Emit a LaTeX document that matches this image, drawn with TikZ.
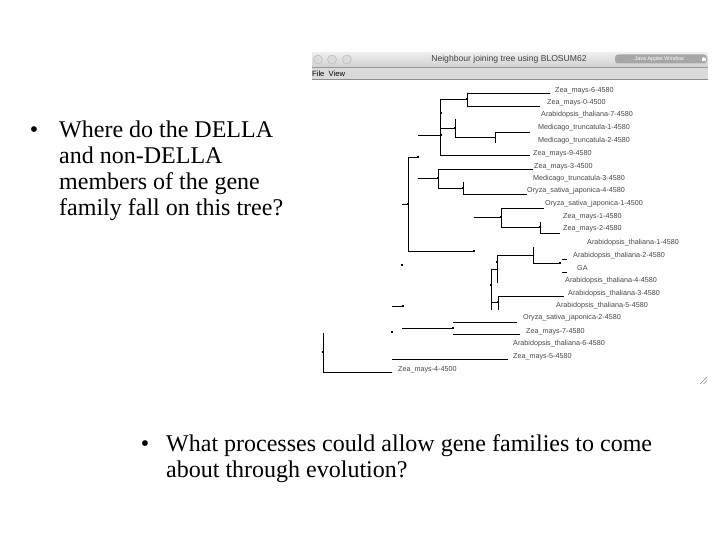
\documentclass[tikz,border=0pt]{standalone}
\usepackage{fontspec}
\setmainfont{Liberation Serif}
\newfontfamily\uisans{Liberation Sans}
\definecolor{barTop}{HTML}{EEEEEE}
\definecolor{barBot}{HTML}{D0D0D0}
\definecolor{menuBar}{HTML}{DADADA}
\definecolor{badge}{HTML}{A6A6A6}
\begin{document}
\begin{tikzpicture}[x=1pt,y=-1pt,
  br/.style={line width=0.9pt, black, line cap=rect},
  nd/.style={fill=black, minimum size=2.8pt, inner sep=0pt, draw=none, rectangle},
  lab/.style={font=\uisans\fontsize{7.2}{8}\selectfont, text=black!72, anchor=west, inner sep=0pt},
  slide/.style={font=\fontsize{24}{27}\selectfont, anchor=base west, inner sep=0pt},
  bul/.style={font=\fontsize{24}{27}\selectfont, anchor=base, inner sep=0pt},
  winbtn/.style={circle, minimum size=9pt, inner sep=0pt, fill=black!14, draw=black!30, line width=0.4pt}
]
\useasboundingbox (0,0) rectangle (720,540);
\fill[white] (0,0) rectangle (720,540);

% ---------- slide text ----------
\node[bul] (b1) at (34,137.5) {•};
\node[slide] (t1) at (59,137.5) {Where do the DELLA};
\node[slide] (t2) at (59,163.5) {and non-DELLA};
\node[slide] (t3) at (59,189.5) {members of the gene};
\node[slide] (t4) at (59,215.5) {family fall on this tree?};

\node[bul] (b2) at (145,451) {•};
\node[slide] (u1) at (166,451) {What processes could allow gene families to come};
\node[slide] (u2) at (166,477) {about through evolution?};

% ---------- window chrome ----------
\shade[top color=barTop, bottom color=barBot] (312,53) rectangle (708,67);
\fill[menuBar] (312,67) rectangle (708,79);
\draw[black!40, line width=0.5pt] (312,67) -- (708,67);
\draw[black!45, line width=0.6pt] (312,79) -- (708,79);
\node[winbtn] (c1) at (318,59.5) {};
\node[winbtn] (c2) at (332,59.5) {};
\node[winbtn] (c3) at (347,59.5) {};
\node[font=\uisans\fontsize{8.6}{10}\selectfont, text=black!75, inner sep=0pt] (title) at (509,59.5) {Neighbour joining tree using BLOSUM62};
\node[fill=badge, rounded corners=3pt, minimum width=92pt, minimum height=9pt, inner sep=0pt,
      font=\uisans\fontsize{5.4}{6}\selectfont, text=white] (badge) at (661,59) {Java Applet Window\,\,\,\,};
\fill[white] (701.5,58.5) rectangle (706,61.5);
\draw[white, line width=0.6pt] (702.5,58.5) arc[start angle=180, end angle=0, radius=1.25pt];
\node[font=\uisans\fontsize{7.6}{9}\selectfont, anchor=west, inner sep=0pt] (menu) at (312,73.5) {File\ \ View};
\draw[black!45, line width=0.4pt] (700,384) -- (707,377) (703.5,384) -- (707,380.5);

% ---------- tree branches ----------
% top clade
\draw[br] (467,93) -- (550,93);
\draw[br] (467,106) -- (540,106);
\draw[br] (467,93) -- (467,106);
\draw[br] (440,99) -- (467,99);
\draw[br] (440,99) -- (440,155);
\draw[br] (418,135) -- (440,135);
\draw[br] (440,128) -- (455,128);
\draw[br] (455,119) -- (455,137);
\draw[br] (455,137) -- (495,137);
\draw[br] (495,132) -- (495,143);
\draw[br] (495,132) -- (530,132);
\draw[br] (440,155) -- (530,155);
% second clade
\draw[br] (418,157) -- (408,157) -- (408,251) -- (474,251);
\draw[br] (402,204) -- (408,204);
\draw[br] (438,169) -- (533,169);
\draw[br] (438,169) -- (438,188);
\draw[br] (418,178) -- (438,178);
\draw[br] (438,188) -- (463,188);
\draw[br] (463,182) -- (463,194);
\draw[br] (463,194) -- (527,194);
% third clade
\draw[br] (474,217) -- (501,217);
\draw[br] (501,208) -- (501,227);
\draw[br] (501,208) -- (544,208);
\draw[br] (501,227) -- (540,227);
\draw[br] (540,222) -- (540,233);
\draw[br] (540,233) -- (560,233);
% fourth clade
\draw[br] (533,247) -- (533,263);
\draw[br] (533,263) -- (560,263);
\draw[br] (497,255) -- (533,255);
\draw[br] (497,255) -- (497,283);
\draw[br] (491,269) -- (497,269);
\draw[br] (491,269) -- (491,310);
\draw[br] (491,302) -- (498,302);
\draw[br] (498,296) -- (498,310);
\draw[br] (498,296) -- (564,296);
\draw[br, line width=0.6pt] (562,259) -- (567,259);
\draw[br, line width=0.6pt] (562,272) -- (567,272);
% lower part
\draw[br] (392,306) -- (403,306);
\draw[br] (453,322) -- (517,322);
\draw[br] (402,328) -- (453,328);
\draw[br] (453,334) -- (520,334);
\draw[br] (323,333) -- (323,372);
\draw[br] (392,359) -- (508,359);
\draw[br] (323,372) -- (392,372);

% ---------- node dots ----------
\node[nd] (n1) at (467,99) {};
\node[nd] (n2) at (441,113) {};
\node[nd] (n3) at (441,135) {};
\node[nd] (n4) at (455,128) {};
\node[nd] (n5) at (418,157) {};
\node[nd] (n6) at (408,204) {};
\node[nd] (n7) at (438,178) {};
\node[nd] (n8) at (463,188) {};
\node[nd] (n9) at (474,251) {};
\node[nd] (n10) at (501,217) {};
\node[nd] (n11) at (540,227) {};
\node[nd] (n12) at (560,263) {};
\node[nd] (n13) at (497,262) {};
\node[nd] (n14) at (491,285) {};
\node[nd] (n15) at (498,302) {};
\node[nd] (n16) at (402,265) {};
\node[nd] (n17) at (403,306) {};
\node[nd] (n18) at (453,328) {};
\node[nd] (n19) at (392,332) {};
\node[nd] (n20) at (323,352) {};

% ---------- leaf labels ----------
\node[lab] (l1) at (555,91) {Zea\_mays-6-4580};
\node[lab] (l2) at (547,103) {Zea\_mays-0-4500};
\node[lab] (l3) at (541,115) {Arabidopsis\_thaliana-7-4580};
\node[lab] (l4) at (538,128) {Medicago\_truncatula-1-4580};
\node[lab] (l5) at (538,141) {Medicago\_truncatula-2-4580};
\node[lab] (l6) at (533,154) {Zea\_mays-9-4580};
\node[lab] (l7) at (534,167) {Zea\_mays-3-4500};
\node[lab] (l8) at (533,179) {Medicago\_truncatula-3-4580};
\node[lab] (l9) at (527,191) {Oryza\_sativa\_japonica-4-4580};
\node[lab] (l10) at (545,204) {Oryza\_sativa\_japonica-1-4500};
\node[lab] (l11) at (563,217) {Zea\_mays-1-4580};
\node[lab] (l12) at (563,229) {Zea\_mays-2-4580};
\node[lab] (l13) at (587,243) {Arabidopsis\_thaliana-1-4580};
\node[lab] (l14) at (573,256) {Arabidopsis\_thaliana-2-4580};
\node[lab] (l15) at (577,268) {GA};
\node[lab] (l16) at (565,281) {Arabidopsis\_thaliana-4-4580};
\node[lab] (l17) at (568,294) {Arabidopsis\_thaliana-3-4580};
\node[lab] (l18) at (556,306) {Arabidopsis\_thaliana-5-4580};
\node[lab] (l19) at (523,318) {Oryza\_sativa\_japonica-2-4580};
\node[lab] (l20) at (526,332) {Zea\_mays-7-4580};
\node[lab] (l21) at (513,344) {Arabidopsis\_thaliana-6-4580};
\node[lab] (l22) at (513,357) {Zea\_mays-5-4580};
\node[lab] (l23) at (398,370) {Zea\_mays-4-4500};
\end{tikzpicture}
\end{document}
